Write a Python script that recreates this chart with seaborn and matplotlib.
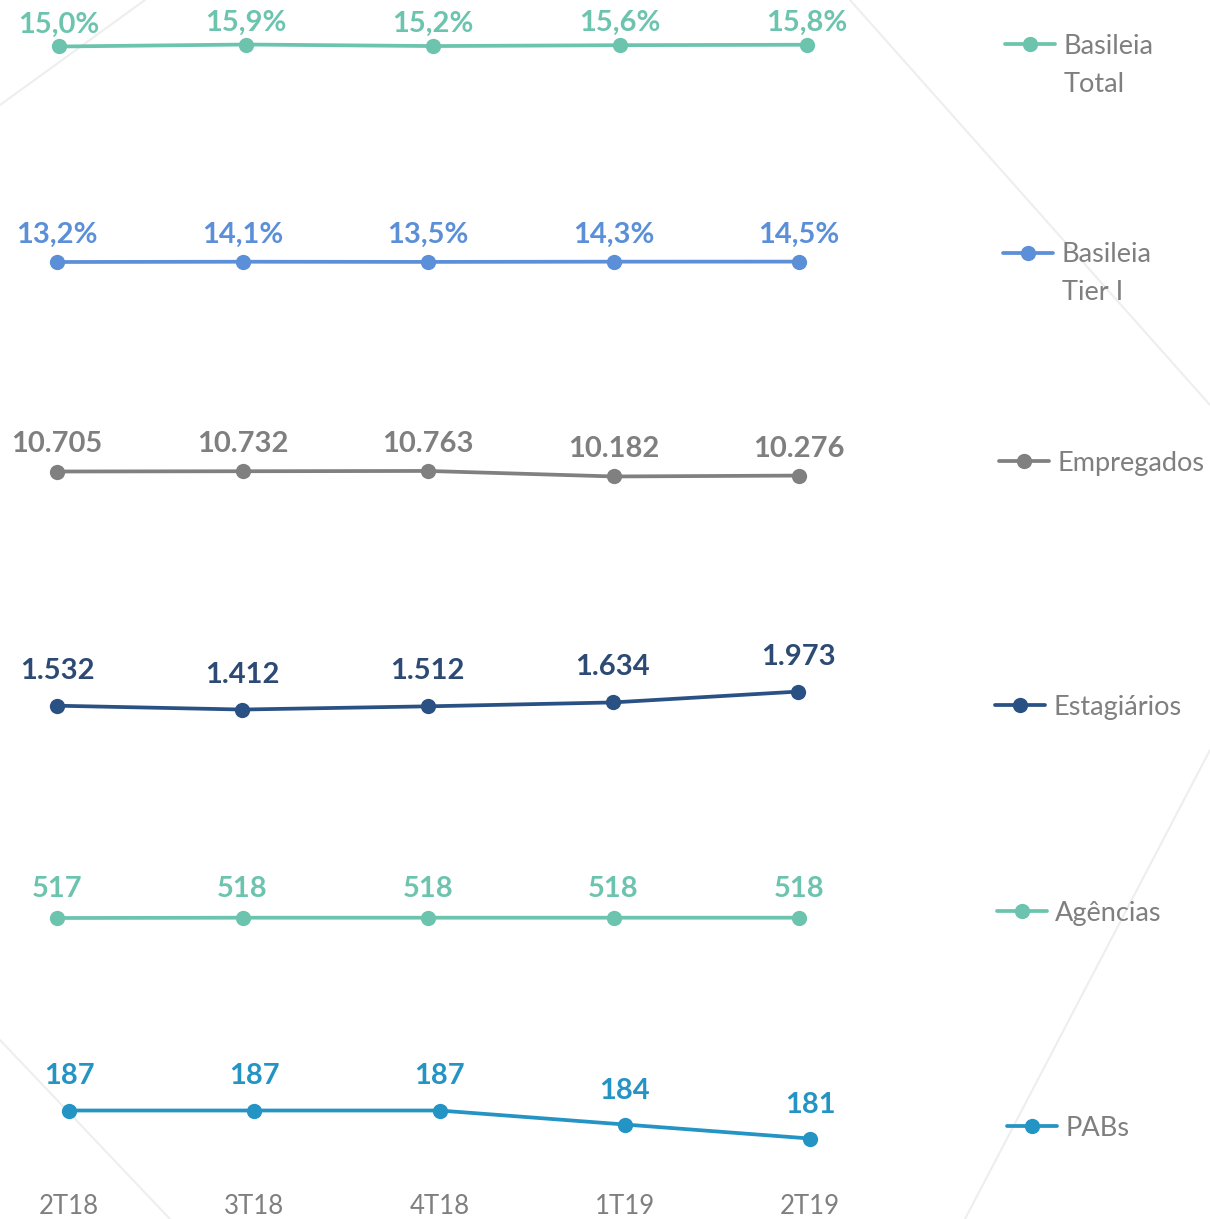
import numpy as np
import pandas as pd
import matplotlib
matplotlib.use("Agg")
import matplotlib.pyplot as plt
from matplotlib.lines import Line2D
import seaborn as sns

# ---- data ----
quarters = ["2T18", "3T18", "4T18", "1T19", "2T19"]
basileia_total = [15.0, 15.9, 15.2, 15.6, 15.8]
basileia_tier1 = [13.2, 14.1, 13.5, 14.3, 14.5]
empregados = [10705, 10732, 10763, 10182, 10276]
estagiarios = [1532, 1412, 1512, 1634, 1973]
agencias = [517, 518, 518, 518, 518]
pabs = [187, 187, 187, 184, 181]
series_names = ["Basileia\nTotal", "Basileia\nTier I", "Empregados", "Estagiários", "Agências", "PABs"]

sns.set_theme(style="white")
plt.rcParams["font.family"] = ["Lato", "DejaVu Sans"]

W, H = 1210, 1219
fig = plt.figure(figsize=(W / 100, H / 100), dpi=100)
fig.patch.set_facecolor("white")

# decorative background lines
deco = "#EEEEEE"
for (x0, y0), (x1, y1) in [((0, 105), (145, 0)), ((850, 0), (1210, 405)),
                           ((1210, 750), (965, 1219)), ((0, 1040), (170, 1219))]:
    fig.add_artist(Line2D([x0 / W, x1 / W], [1 - y0 / H, 1 - y1 / H],
                          color=deco, lw=1.5, transform=fig.transFigure, zorder=0))

def fmt_pct(v):
    return f"{v:.1f}%".replace(".", ",")

def fmt_int(v):
    return f"{v:,}".replace(",", ".")

rows = [
    # values, formatter, line color, label color, x0px, x4px, ref_px(y of first point), scale px/unit, label offset px, legend (x, y)
    (basileia_total, fmt_pct, "#6CC4AE", "#6CC4AE", 59, 807, 46.5, 2.2, 22, (1005, 46)),
    (basileia_tier1, fmt_pct, "#5B8FD8", "#5B8FD8", 57, 799, 262, 0.3, 27, (1003, 255)),
    (empregados, fmt_int, "#808080", "#7F7F7F", 57, 799, 471.5, 0.0095, 27, (999, 463)),
    (estagiarios, fmt_int, "#2A5183", "#2C4A74", 57, 798, 705.7, 0.032, 35, (995, 707)),
    (agencias, fmt_int, "#6CC4AE", "#6CC4AE", 57, 799, 918, 0.3, 29, (997, 913)),
    (pabs, fmt_int, "#2494C4", "#2494C4", 69, 810, 1110.5, 4.67, 34, (1007, 1128)),
]

legend_gray = "#7F7F7F"
idx = np.arange(len(quarters))
band = 50
for k, (vals, fmt, col, lcol, x0, x4, pref, scale, off, (lgx, lgy)) in enumerate(rows):
    top_px, bot_px = pref - band, pref + band
    ax = fig.add_axes([x0 / W, 1 - bot_px / H, (x4 - x0) / W, (bot_px - top_px) / H])
    ax.set_facecolor("none")
    df = pd.DataFrame({"q": idx, "v": vals})
    sns.lineplot(data=df, x="q", y="v", ax=ax, color=col, linewidth=2.7,
                 marker="o", markersize=11, markeredgewidth=0, clip_on=False)
    v0 = vals[0]
    ax.set_xlim(0, 4)
    ax.set_ylim(v0 - (bot_px - pref) / scale, v0 + (pref - top_px) / scale)
    for i, v in enumerate(vals):
        ax.annotate(fmt(v), (i, v), xytext=(0, off * 0.72), textcoords="offset points",
                    ha="center", va="center", fontsize=21, fontweight="bold", color=lcol)
    for s in ax.spines.values():
        s.set_visible(False)
    ax.set_xlabel("")
    ax.set_ylabel("")
    ax.set_yticks([])
    if k == len(rows) - 1:
        ax.set_xticks(idx)
        ax.set_xticklabels(quarters, fontsize=18.5, color=legend_gray)
        ax.tick_params(axis="x", length=0, pad=(1206 - bot_px) * 0.72 - 9)
    else:
        ax.set_xticks([])
    name = series_names[k]
    lines = name.split("\n")
    handle = Line2D([], [], color=col, lw=2.7, marker="o", markersize=11, markeredgewidth=0)
    ax.legend([handle], [lines[0]], loc="center left",
              bbox_to_anchor=(lgx / W, 1 - lgy / H), bbox_transform=fig.transFigure,
              frameon=False, fontsize=19.5, handlelength=1.85, handletextpad=0.3,
              borderpad=0, borderaxespad=0, labelcolor=legend_gray)
    if len(lines) > 1:
        fig.text((lgx + 59) / W, 1 - (lgy + 38) / H, lines[1], fontsize=19.5,
                 color=legend_gray, ha="left", va="center")

fig.savefig("out.png", dpi=100, facecolor="white")
